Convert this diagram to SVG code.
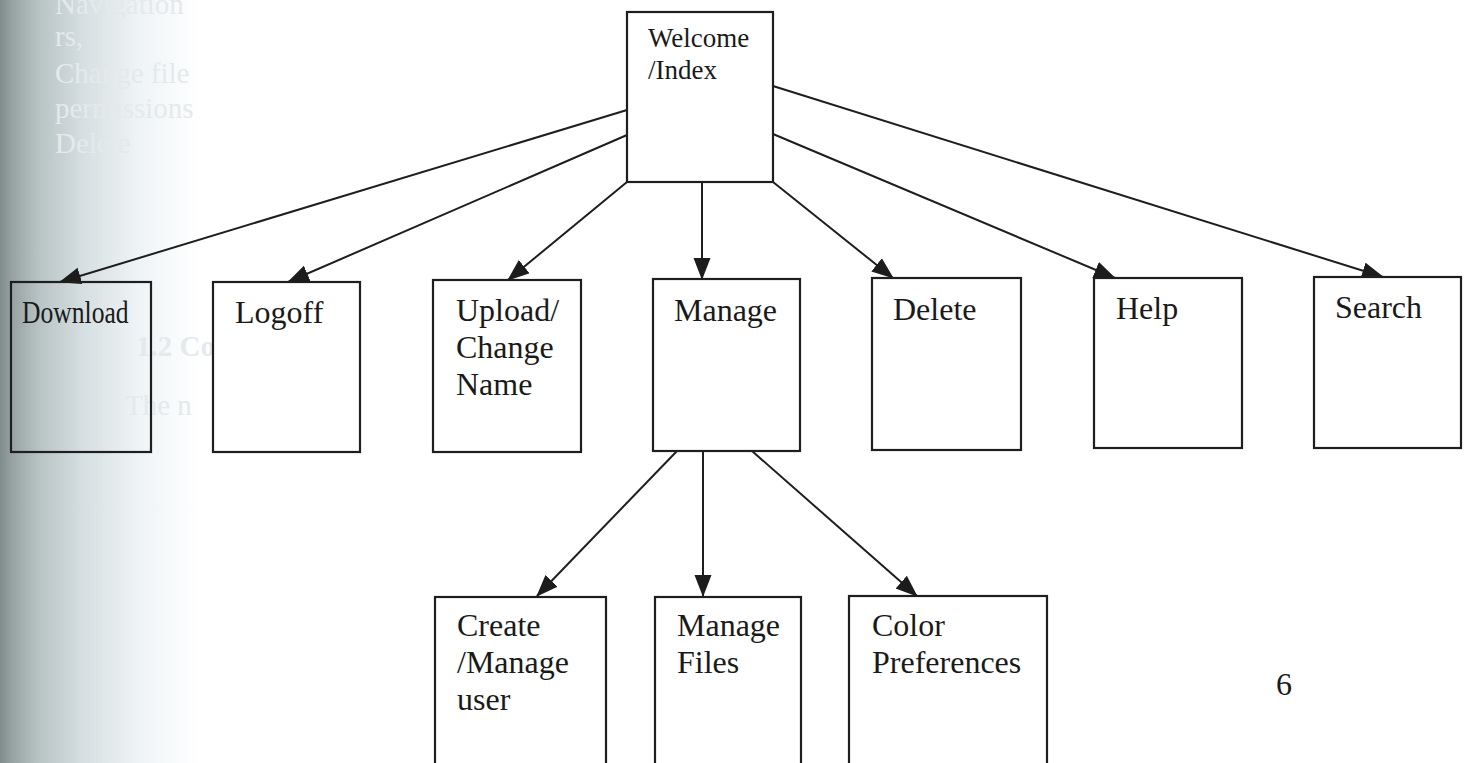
<svg xmlns="http://www.w3.org/2000/svg" width="1470" height="763" viewBox="0 0 1470 763">
<defs>
<linearGradient id="shade" x1="0" y1="0" x2="1" y2="0">
<stop offset="0" stop-color="#808c8b"/>
<stop offset="0.06" stop-color="#97a3a2"/>
<stop offset="0.2" stop-color="#b9c4c5"/>
<stop offset="0.42" stop-color="#d6dfe1"/>
<stop offset="0.68" stop-color="#eef3f5"/>
<stop offset="1" stop-color="#ffffff"/>
</linearGradient>
<marker id="arr" markerUnits="userSpaceOnUse" markerWidth="22" markerHeight="18" refX="21" refY="8.5" orient="auto">
<path d="M0,0 L22,8.5 L0,17 z" fill="#1c1c1c"/>
</marker>
<style>
.box{fill:#fff;stroke:#1e1e1e;stroke-width:2.2}
.clear{fill:none;stroke:#1e1e1e;stroke-width:2.2}
.lbl{font-family:"Liberation Serif","Times New Roman",serif;font-size:32px;fill:#1a1a1a}
.small{font-family:"Liberation Serif","Times New Roman",serif;font-size:27px;fill:#1a1a1a}
.ghost{font-family:"Liberation Serif","Times New Roman",serif;font-size:29px;fill:#e4eaec}
.edge{stroke:#1e1e1e;stroke-width:2;fill:none;marker-end:url(#arr)}
</style>
</defs>
<rect x="0" y="0" width="1470" height="763" fill="#ffffff"/>
<rect x="0" y="0" width="200" height="763" fill="url(#shade)"/>
<g id="bleed">
<text class="ghost" x="55" y="14">Navigation</text>
<text class="ghost" x="55" y="46">rs,</text>
<text class="ghost" x="55" y="83">Change file</text>
<text class="ghost" x="55" y="118">permissions</text>
<text class="ghost" x="55" y="153">Delete</text>
<text class="ghost" x="136" y="356" style="font-weight:bold">1.2 Co</text>
<text class="ghost" x="125" y="415">The n</text>
</g>
<g id="connectors">
<line class="edge" x1="627" y1="110" x2="60" y2="282"/>
<line class="edge" x1="627" y1="135" x2="288" y2="282"/>
<line class="edge" x1="627" y1="182" x2="508" y2="280"/>
<line class="edge" x1="702" y1="182" x2="702" y2="279"/>
<line class="edge" x1="773" y1="182" x2="893" y2="278"/>
<line class="edge" x1="773" y1="134" x2="1115" y2="278"/>
<line class="edge" x1="773" y1="86" x2="1383" y2="277"/>
<line class="edge" x1="677" y1="451" x2="537" y2="596"/>
<line class="edge" x1="703" y1="451" x2="703" y2="596"/>
<line class="edge" x1="752" y1="451" x2="917" y2="596"/>
</g>
<g id="welcome"><rect class="box" x="627" y="12" width="146" height="170"/><text class="small" x="648" y="47">Welcome</text><text class="small" x="648" y="79">/Index</text></g>
<g id="download"><rect class="clear" x="11" y="282" width="140" height="170"/><text class="lbl" transform="translate(22,323) scale(0.8,1)">Download</text></g>
<g id="logoff"><rect class="box" x="213" y="282" width="147" height="170"/><text class="lbl" x="235" y="323">Logoff</text></g>
<g id="upload"><rect class="box" x="433" y="280" width="148" height="172"/><text class="lbl" x="456" y="321">Upload/</text><text class="lbl" x="456" y="358">Change</text><text class="lbl" x="456" y="395">Name</text></g>
<g id="manage"><rect class="box" x="653" y="279" width="147" height="172"/><text class="lbl" x="674" y="321">Manage</text></g>
<g id="delete"><rect class="box" x="872" y="278" width="149" height="172"/><text class="lbl" x="893" y="320">Delete</text></g>
<g id="help"><rect class="box" x="1094" y="278" width="148" height="170"/><text class="lbl" x="1116" y="319">Help</text></g>
<g id="search"><rect class="box" x="1314" y="277" width="147" height="171"/><text class="lbl" x="1335" y="318">Search</text></g>
<g id="create-user"><rect class="box" x="435" y="597" width="171" height="180"/><text class="lbl" x="457" y="636">Create</text><text class="lbl" x="457" y="673">/Manage</text><text class="lbl" x="457" y="710">user</text></g>
<g id="manage-files"><rect class="box" x="655" y="597" width="146" height="180"/><text class="lbl" x="677" y="636">Manage</text><text class="lbl" x="677" y="673">Files</text></g>
<g id="color-prefs"><rect class="box" x="849" y="596" width="198" height="181"/><text class="lbl" x="872" y="636">Color</text><text class="lbl" x="872" y="673">Preferences</text></g>
<text class="lbl" x="1276" y="695">6</text>
</svg>
